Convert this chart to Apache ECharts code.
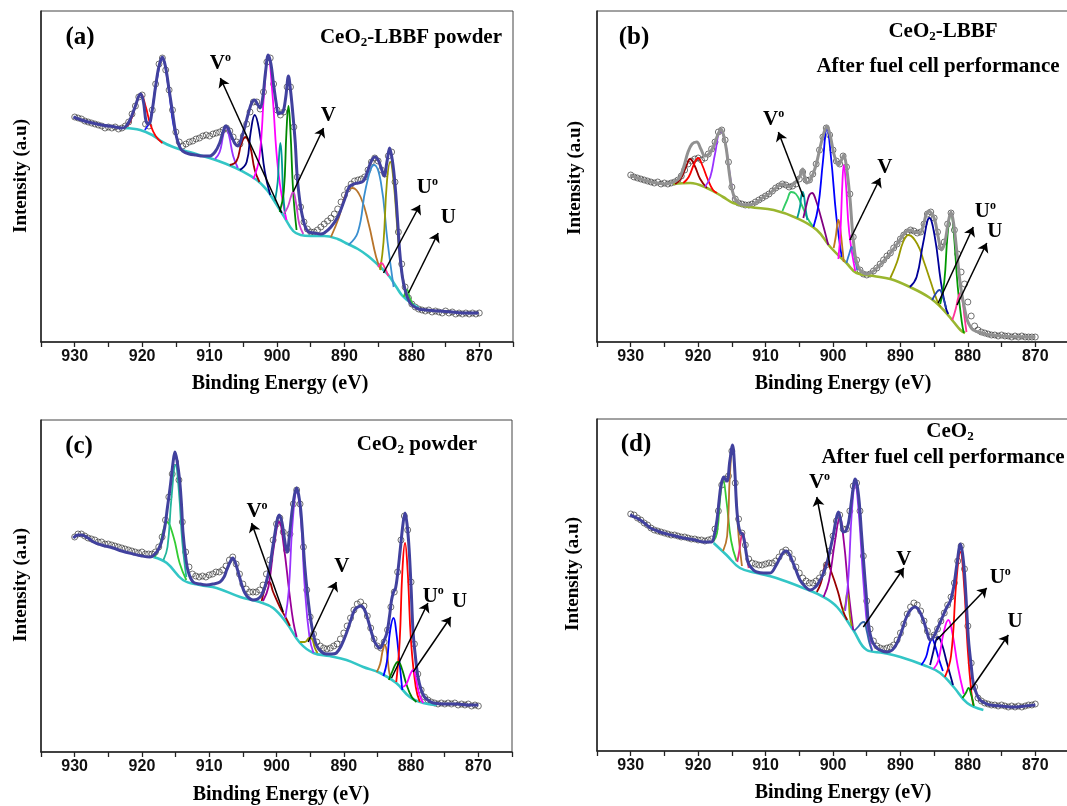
<!DOCTYPE html>
<html><head><meta charset="utf-8">
<script src="https://cdn.jsdelivr.net/npm/echarts@6/dist/echarts.min.js"></script>
<style>html,body{margin:0;padding:0;background:#fff}#c{width:1067px;height:806px}</style>
</head><body><div id="c"></div>
<script>
// ---------- axis ----------
const tickLabels = [930, 920, 910, 900, 890, 880, 870];
const rawStartEV = 930, rawStepEV = 0.5;   // raw points: 930 -> 870 every 0.5 eV

// ---------- panel (a) CeO2-LBBF powder ----------
const aRaw = [225,224,223,221,220,219,218,217,216,214,215,214,215,213,214,216,220,228,236,245,
247,218,216,232,258,278,284,272,252,232,210,200,196,198,200,201,203,204,206,207,
206,208,209,210,212,214,211,205,200,198,206,218,230,240,240,233,250,280,284,258,
232,227,230,255,255,215,165,135,120,113,110,110,112,115,118,121,124,128,133,140,
147,153,158,161,162,163,165,172,180,184,181,172,168,186,190,160,110,78,55,44,
38,35,33,32,31,32,30,31,30,29,31,29,30,28,29,28,29,28,29,28,29];
const aEnvelope = [[930.2,225],[929,222],[928,220],[926,217],[924,215],[923,214],[922.5,215],[921.8,222],[921,236],[920.5,246],[920.2,248],[919.8,240],[919.4,220],[919,218],[918.5,232],[918,256],[917.5,276],[917,285],[916.5,274],[916,252],[915.5,230],[915,208],[914.5,196],[914,191],[913,188],[912,187],[911,186],[910,186],[909.2,190],[908.5,199],[908,210],[907.6,216],[907.2,213],[906.7,205],[906.2,198],[905.8,196],[905.3,203],[904.7,217],[904.2,230],[903.7,240],[903.3,242],[902.9,238],[902.5,234],[902.1,245],[901.7,270],[901.3,287],[900.9,278],[900.5,257],[900.1,238],[899.8,228],[899.5,229],[899.1,230],[898.7,245],[898.3,266],[898,252],[897.7,232],[897.3,200],[897,165],[896.6,140],[896.3,128],[895.8,115],[895.3,110],[894.5,109],[893.5,108],[893,109],[892,115],[891,125],[890,142],[889.3,155],[888.6,158],[888,159],[887.4,160],[887,163],[886.5,172],[886,181],[885.5,185],[885,182],[884.6,175],[884.1,166],[883.7,180],[883.3,194],[882.9,182],[882.5,158],[882.1,120],[881.8,90],[881.4,65],[881,52],[880.5,42],[880,37],[879,33],[878,32],[876,31],[874,30],[872,29],[870.1,29]];
const aBackground = [[922.6,214],[920.3,212],[918.5,207],[917,200],[915.4,195],[913,190],[910,184],[907.5,178],[905.5,172],[903,162],[901.5,152],[900.5,142],[899,126],[897.6,111],[896.5,107],[895,106],[893,106],[891,103],[889.5,98],[888,93],[886.5,86],[885,77],[883.5,67],[882.3,55],[881.5,47],[880.5,41],[879.5,36],[879,34]];
const aPeak920_2 = [[922.6,214],[921.8,220],[921,236],[920.2,248],[919.5,236],[918.8,218],[918,206],[917,199]];
const aPeak917_0 = [[919.6,212],[918.8,222],[918,255],[917,283],[916.1,255],[915.3,215],[914.3,194]];
const aPeak907_6 = [[909.2,183],[908.5,190],[908,206],[907.6,216],[907.1,206],[906.5,186],[905.8,174]];
const aPeak904_7 = [[907,177],[906,181],[905.3,198],[904.7,205],[904,196],[903.3,172],[902.6,160]];
const aPeak903_3 = [[905.5,172],[904.5,180],[903.9,210],[903.3,227],[902.6,210],[901.8,170],[901,147]];
const aPeak901_3 = [[903.5,163],[902.6,185],[901.9,250],[901.3,287],[900.7,250],[899.8,170],[898.6,122]];
const aPeak899_5 = [[900.3,141],[899.9,160],[899.7,185],[899.5,199],[899.3,185],[899.1,150],[898.8,128]];
const aPeak898_3 = [[899.6,130],[899,150],[898.6,210],[898.3,236],[898,210],[897.6,150],[897.1,112]];
const aPeak897_6 = [[899,128],[898.4,135],[897.9,146],[897.6,150],[897.2,140],[896.7,118],[896.1,108]];
const aPeak888_8 = [[892,105],[890.8,125],[889.8,148],[888.8,154],[887.6,145],[886.4,118],[885.3,85],[884.6,72]];
const aPeak885_6 = [[889.4,97],[888,110],[886.8,155],[885.6,177],[884.6,160],[883.6,100],[882.7,55]];
const aPeak883_2 = [[884.7,72],[884.2,100],[883.7,160],[883.2,180],[882.7,160],[882,100],[881.5,70],[880.5,42],[879.8,37]];
const aPeak884_5 = [[885,75],[884.5,79],[884,74],[883.5,66]];
const aPeak880_7 = [[881.2,45],[880.7,52],[880.3,44],[879.8,37]];
const aComponents = [aPeak920_2,aPeak917_0,aPeak907_6,aPeak904_7,aPeak903_3,aPeak901_3,aPeak899_5,aPeak898_3,aPeak897_6,aPeak888_8,aPeak885_6,aPeak883_2,aPeak884_5,aPeak880_7];
const aComponentColors = ['#ff0000','#1a1aff','#9933ff','#990000','#000080','#ff00ff','#009999','#008800','#cc44cc','#b8742a','#3a8fd0','#999900','#ff3399','#33cc33'];

// ---------- panel (b) CeO2-LBBF after fuel cell ----------
const bRaw = [167,165,164,163,162,161,160,159,160,158,159,158,159,160,162,166,172,178,181,183,
184,182,184,188,193,200,210,212,202,180,155,143,139,138,137,137,138,140,142,144,
146,148,151,154,156,158,157,155,156,158,163,170,162,162,168,178,192,205,214,207,
192,181,178,186,175,148,105,82,72,68,67,68,71,74,78,82,86,89,94,98,
103,107,110,112,111,109,110,118,128,130,124,110,95,100,118,129,112,88,70,58,
40,26,16,12,10,9,8,7,7,6,7,6,6,5,6,5,6,5,5,5,5];
const bEnvelope = [[930.1,167],[929,164],[928.1,162],[927,160],[926.2,159],[925,158],[924.2,159],[923.3,161],[922.7,165],[922.1,176],[921.5,190],[920.9,198],[920.2,200],[919.6,193],[919,186],[918.4,188],[917.7,196],[917.1,207],[916.6,213],[916.2,206],[915.8,192],[915.4,170],[915,153],[914.5,143],[914,139],[913.2,137],[912.3,137],[911.3,140],[910.3,145],[909.5,148],[908.8,152],[908.1,156],[907.6,158],[907,157],[906.4,155],[905.8,158],[905.4,161],[904.9,166],[904.5,173],[904.2,165],[903.9,159],[903.4,162],[902.9,169],[902.4,180],[901.9,195],[901.4,208],[900.9,216],[900.4,206],[899.9,189],[899.5,180],[899.2,177],[898.8,181],[898.4,187],[898,175],[897.5,145],[897.1,110],[896.7,86],[896.3,76],[896,72],[895.5,69],[895,68],[894.2,70],[893.5,74],[892.5,81],[891.5,89],[890.6,97],[889.8,105],[889.2,110],[888.6,112],[887.9,110],[887.1,109],[886.6,117],[886.2,127],[885.8,131],[885.4,129],[884.9,122],[884.4,105],[883.9,92],[883.4,100],[882.9,120],[882.5,130],[882.1,118],[881.6,88],[881.2,62],[880.9,48],[880.5,34],[880.1,22],[879.6,15],[879.2,12],[878,9],[876.7,7],[875,6],[872.7,5],[870,5]];
const bBackground = [[923.7,158],[921.2,159],[918.7,154],[916.3,145],[914.8,139],[912.3,135],[908.8,132],[905.4,124],[902.4,112],[900.4,95],[898,79],[896.5,69],[894,66],[891.5,63],[888.6,55],[885.6,44],[883.6,32],[882.1,20],[881.1,12],[880.4,9]];
const bPeak921_2 = [[923.4,158],[922.6,163],[921.8,175],[921.2,183],[920.5,176],[919.7,163],[918.7,154]];
const bPeak920_0 = [[922.2,159],[921.4,165],[920.6,178],[920,184],[919.4,177],[918.6,163],[917.8,152],[917.2,149]];
const bPeak916_7 = [[919,155],[918.2,165],[917.5,188],[916.7,211],[916,200],[915.4,172],[914.7,145],[914.2,140]];
const bPeak906_2 = [[907.5,131],[906.8,142],[906.2,150],[905.5,148],[904.7,138],[903.8,124],[903,116]];
const bPeak904_5 = [[905.3,124],[904.9,135],[904.7,146],[904.5,150],[904.3,146],[904.1,135],[903.8,122]];
const bPeak903_1 = [[904.4,124],[903.9,138],[903.5,147],[903.1,149],[902.6,143],[901.8,125],[900.7,97]];
const bPeak900_9 = [[902.9,115],[902.2,135],[901.5,180],[900.9,214],[900.3,185],[899.5,125],[898.7,85]];
const bPeak899_2 = [[899.9,94],[899.6,105],[899.35,118],[899.2,122],[899,117],[898.7,100],[898.4,80]];
const bPeak898_4 = [[899.2,83],[898.9,110],[898.6,160],[898.4,177],[898.1,160],[897.6,110],[896.7,71]];
const bPeak897_2 = [[898,79],[897.6,88],[897.2,95],[896.8,85],[896.4,72]];
const bPeak888_8 = [[891.5,64],[890.5,80],[889.6,100],[888.8,107],[887.5,98],[886.5,80],[885.5,60],[884.6,42],[884,35]];
const bPeak885_7 = [[888.6,55],[887.6,65],[886.6,100],[885.7,124],[884.9,105],[884,60],[883.3,35],[882.9,28]];
const bPeak882_5 = [[884.1,38],[883.5,60],[883,108],[882.5,129],[882.1,110],[881.5,55],[880.9,20],[880.6,9]];
const bPeak884_2 = [[885.3,42],[884.6,50],[884.2,52],[883.7,45],[883.2,34]];
const bPeak881_1 = [[882.3,22],[881.8,33],[881.4,45],[881.1,49],[880.8,42],[880.5,25],[880.2,10]];
const bComponents = [bPeak921_2,bPeak920_0,bPeak916_7,bPeak906_2,bPeak904_5,bPeak903_1,bPeak900_9,bPeak899_2,bPeak898_4,bPeak897_2,bPeak888_8,bPeak885_7,bPeak882_5,bPeak884_2,bPeak881_1];
const bComponentColors = ['#990000','#ff0000','#9933ff','#33cc66','#009999','#800080','#0000ff','#c07a20','#ff00ff','#3377cc','#999900','#000099','#009900','#2244aa','#ff3399'];

// ---------- panel (c) CeO2 powder ----------
const cRaw = [215,218,218,216,214,213,212,210,210,208,208,207,206,205,204,203,202,201,200,199,
200,198,198,198,200,205,215,232,255,278,290,272,230,200,185,178,176,175,176,175,
177,178,180,180,182,186,192,195,188,178,168,163,160,160,160,162,167,178,192,212,
228,234,220,202,218,248,262,248,205,162,135,118,110,106,104,103,104,106,108,113,
119,126,134,142,148,150,146,136,124,113,106,104,110,122,145,160,180,212,236,222,
170,108,78,62,55,52,50,49,48,49,48,49,48,49,47,48,47,48,46,47,46];
const cEnvelope = [[930.2,214],[929.5,217],[929,217],[928,214],[927.2,210],[926,207],[924.3,204],[923,201],[921.3,198],[920,196],[918.8,195],[918.2,197],[917.6,202],[917.1,210],[916.6,225],[916.2,245],[915.8,265],[915.4,288],[915.1,300],[914.8,292],[914.4,272],[914.1,245],[913.9,220],[913.5,195],[913.1,180],[912.4,170],[911.4,168],[910.4,167],[909.4,168],[908.4,170],[907.8,175],[907.4,182],[906.9,190],[906.5,194],[906.1,189],[905.7,180],[905.2,168],[904.7,159],[904.1,154],[903.5,152],[902.8,153],[902.2,157],[901.6,168],[901,185],[900.6,203],[900.2,220],[899.9,232],[899.6,237],[899.2,230],[898.9,217],[898.6,204],[898.4,200],[898.1,215],[897.7,240],[897.3,258],[897,264],[896.7,257],[896.4,242],[896.1,215],[895.8,186],[895.4,158],[895,136],[894.5,117],[894,106],[893.3,100],[892.6,98],[891.8,98],[891.1,99],[890.4,106],[889.6,119],[889,131],[888.4,142],[887.9,145],[887.4,146],[886.9,142],[886.4,132],[885.9,120],[885.4,110],[884.9,105],[884.6,104],[884.1,110],[883.6,119],[883.2,136],[882.9,152],[882.6,160],[882.3,164],[882,178],[881.6,203],[881.2,228],[880.9,239],[880.6,228],[880.3,204],[880,165],[879.7,120],[879.3,92],[879,76],[878.5,62],[878,55],[877.3,51],[876.7,49],[875,48],[873.2,48],[871.5,47],[870,47]];
const cBackground = [[918.3,195],[916.3,189],[913.9,172],[911.4,167],[908.9,164],[905.4,155],[902.5,150],[900.5,144],[898.5,129],[896.5,109],[894.5,99],[892.1,96],[889.6,92],[887.1,85],[884.6,79],[882.2,69],[880.2,55],[878.2,49],[876.2,47]];
const cPeak916_3 = [[918.1,195],[917.4,205],[916.8,222],[916.3,230],[915.3,215],[914.4,189],[913.4,172]];
const cPeak915_0 = [[916.8,192],[916.2,205],[915.6,255],[915,287],[914.5,260],[914,210],[913.4,175]];
const cPeak901_1 = [[902.2,151],[901.8,162],[901.4,169],[901.1,170],[900.5,160],[899.5,145],[898.6,134],[898,126]];
const cPeak899_6 = [[902,151],[901.2,165],[900.4,205],[899.6,230],[898.9,205],[898.1,160],[897.5,130],[897,115]];
const cPeak897_0 = [[898.7,134],[898.2,160],[897.6,230],[897,260],[896.4,235],[895.8,165],[895.1,115],[894.5,99]];
const cPeak895_1 = [[896.5,110],[895.8,110],[895.1,114],[894.7,113],[894.3,104],[893.9,99]];
const cPeak883_9 = [[885.1,80],[884.6,88],[884.2,102],[883.9,107],[883.6,100],[883.3,82],[883.1,75]];
const cPeak882_6 = [[884.1,76],[883.6,90],[883.1,122],[882.6,134],[882.2,120],[881.7,88],[881.3,62]];
const cPeak880_9 = [[882.2,70],[881.7,110],[881.3,180],[880.9,209],[880.5,180],[880,110],[879.3,65],[878.7,50]];
const cPeak881_9 = [[883.3,72],[882.7,82],[882.2,89],[881.9,90],[881.4,84],[880.7,68],[879.9,55],[879.2,50]];
const cPeak879_7 = [[881.2,65],[880.7,68],[880.1,78],[879.7,82],[879.3,74],[878.8,58],[878.2,49]];
const cComponents = [cPeak916_3,cPeak915_0,cPeak901_1,cPeak899_6,cPeak897_0,cPeak895_1,cPeak883_9,cPeak882_6,cPeak880_9,cPeak881_9,cPeak879_7];
const cComponentColors = ['#33cc33','#22b59a','#990000','#990099','#9933ff','#999900','#b8742a','#0000ff','#ff0000','#008000','#ff00ff'];

// ---------- panel (d) CeO2 after fuel cell ----------
const dRaw = [237,236,233,231,228,226,223,221,220,219,218,217,216,216,215,214,214,213,212,212,
211,211,210,211,212,222,240,266,272,275,300,268,232,218,206,192,188,187,186,186,
187,188,188,190,194,199,201,198,192,184,178,173,170,168,168,170,173,178,186,200,
215,230,236,222,222,240,265,268,240,195,150,122,110,105,103,102,103,104,106,111,
118,127,137,144,148,146,140,130,120,114,116,122,130,138,146,154,168,190,205,182,
125,88,64,53,50,48,47,46,46,45,46,45,44,45,44,45,44,45,46,46,47];
const dEnvelope = [[930.1,236],[929.4,234],[928.6,231],[927.8,227],[927.1,223],[926,220],[925.2,218],[924,216],[922.2,213],[920.5,211],[919.2,209],[918,209],[917.6,216],[917.2,231],[916.9,250],[916.6,266],[916.2,274],[915.9,271],[915.7,270],[915.3,290],[914.9,306],[914.6,285],[914.3,245],[914,225],[913.7,218],[913.4,217],[913.1,208],[912.8,195],[912.5,187],[911.8,181],[911.3,179],[910.3,178],[909.3,178],[908.5,185],[907.8,194],[907.3,199],[906.9,200],[906.5,197],[906.1,191],[905.5,181],[904.9,171],[904.2,165],[903.4,161],[902.6,164],[901.9,171],[901.4,178],[900.9,188],[900.4,202],[899.9,218],[899.5,233],[899.2,239],[898.9,232],[898.5,219],[898.1,220],[897.7,228],[897.3,248],[896.9,268],[896.7,272],[896.4,265],[896.1,248],[895.8,220],[895.4,184],[895,150],[894.7,125],[894.2,110],[893.5,103],[892.7,100],[892,99],[891.2,101],[890.5,108],[889.8,120],[889.1,134],[888.4,142],[887.8,144],[887.2,140],[886.6,131],[886.1,120],[885.6,111],[885.1,114],[884.4,124],[883.7,135],[883.1,144],[882.6,150],[882.1,164],[881.6,188],[881.1,207],[880.8,198],[880.5,178],[880.2,145],[879.9,111],[879.5,85],[879.2,68],[878.7,57],[878.2,51],[877.5,48],[876.7,46],[875,45],[873.2,44],[871.5,45],[870,46]];
const dBackground = [[917.7,208],[915.8,196],[913.8,183],[911.3,178],[908.4,173],[904.4,163],[901.4,154],[899.4,144],[897,121],[895,101],[892.5,98],[890,94],[886.6,86],[884.1,78],[882.1,64],[880.1,48],[877.7,41]];
const dPeak916_3 = [[917.8,209],[917.2,218],[916.7,255],[916.3,271],[915.8,250],[915.1,210],[914.3,190]];
const dPeak914_9 = [[916.3,200],[915.7,215],[915.3,275],[914.9,303],[914.5,270],[914,215],[913.5,185]];
const dPeak913_4 = [[914.2,189],[913.9,200],[913.6,214],[913.4,218],[913.1,210],[912.8,195],[912.5,183]];
const dPeak900_9 = [[902.4,159],[901.8,168],[901.3,183],[900.9,189],[900.3,180],[899.3,160],[898.5,140],[897.9,131]];
const dPeak899_0 = [[901.4,154],[900.6,170],[899.7,210],[899,233],[898.4,210],[897.7,160],[897,121]];
const dPeak897_9 = [[898.5,140],[898.2,145],[898,155],[897.9,158],[897.7,152],[897.5,135],[897.2,125]];
const dPeak896_7 = [[898.2,140],[897.7,175],[897.2,240],[896.7,266],[896.2,240],[895.5,170],[894.8,118],[894.2,101]];
const dPeak895_4 = [[896.9,120],[896.3,124],[895.8,128],[895.4,129],[895,120],[894.6,108],[894.2,100]];
const dPeak885_3 = [[886.9,86],[886.2,94],[885.7,107],[885.3,112],[884.9,106],[884.3,92],[883.7,80]];
const dPeak884_4 = [[885.6,86],[885.1,100],[884.7,111],[884.4,114],[883.9,108],[883.1,88],[882.2,66]];
const dPeak882_9 = [[885.1,82],[884.4,90],[883.6,118],[882.9,131],[882.3,118],[881.5,85],[880.6,57]];
const dPeak881_1 = [[883.4,74],[882.5,95],[881.7,170],[881.1,199],[880.6,170],[880,100],[879.5,60],[879.2,46]];
const dPeak879_9 = [[880.8,53],[880.3,58],[879.9,63],[879.5,56],[879.1,45]];
const dComponents = [dPeak916_3,dPeak914_9,dPeak913_4,dPeak900_9,dPeak899_0,dPeak897_9,dPeak896_7,dPeak895_4,dPeak885_3,dPeak884_4,dPeak882_9,dPeak881_1,dPeak879_9];
const dComponentColors = ['#33cc33','#b8742a','#e0307a','#990000','#990099','#999900','#9933ff','#3366aa','#0000ff','#000080','#ff00ff','#ff0000','#009900'];

// ---------- annotations (label, eV, intensity) and arrows (from -> to) ----------
const aLabels = [['V°',908.4,278],['V',892.4,226],['U°',877.7,154],['U',874.6,124]];
const aArrows = [[[899.3,129],[908.4,264]],[[897.6,150],[893.1,214]],[[884.2,69],[878.8,137]],[[880.5,49],[876.1,109]]];
const bLabels = [['V°',908.8,222],['V',892.3,174],['U°',877.4,130],['U',876,110]];
const bArrows = [[[904.4,145],[908.1,210]],[[897.5,102],[893,164]],[[884.4,39],[879.2,115]],[[881.6,37],[877.2,99]]];
const cLabels = [['V°',902.9,240],['V',890.3,185],['U°',876.7,155],['U',872.8,150]];
const cArrows = [[[899,140],[903.7,229]],[[895.3,110],[891.1,170]],[[882.9,74],[877.5,149]],[[879.7,80],[874.1,135]]];
const dLabels = [['V°',902,268],['V',889.5,191],['U°',875.2,173],['U',873,129]];
const dArrows = [[[900.4,184],[902.4,254]],[[895.5,124],[889.5,183]],[[884.6,111],[877.2,163]],[[879.6,61],[874,116]]];

// ---------- build ----------
const serif = '"Liberation Serif","Times New Roman",serif';
const sans = '"Liberation Sans",Arial,sans-serif';
const panels = [
  {grid:{left:41,top:11,width:472,height:331}, ymax:331, raw:aRaw, env:aEnvelope, envColor:'#41419e', bg:aBackground, bgColor:'#33c6c6', comps:aComponents, colors:aComponentColors, labels:aLabels, arrows:aArrows},
  {grid:{left:597,top:11,width:472,height:331}, ymax:331, raw:bRaw, env:bEnvelope, envColor:'#919191', bg:bBackground, bgColor:'#9ab62f', comps:bComponents, colors:bComponentColors, labels:bLabels, arrows:bArrows},
  {grid:{left:41,top:420,width:471,height:332}, ymax:332, raw:cRaw, env:cEnvelope, envColor:'#41419e', bg:cBackground, bgColor:'#33c6c6', comps:cComponents, colors:cComponentColors, labels:cLabels, arrows:cArrows},
  {grid:{left:597,top:419,width:472,height:332}, ymax:332, raw:dRaw, env:dEnvelope, envColor:'#41419e', bg:dBackground, bgColor:'#33c6c6', comps:dComponents, colors:dComponentColors, labels:dLabels, arrows:dArrows}
];

const grids = [], xAxes = [], yAxes = [], series = [];
panels.forEach((p, i) => {
  grids.push(Object.assign({show:true, borderColor:'#444', borderWidth:1, backgroundColor:'transparent', containLabel:false, outerBoundsMode:'none'}, p.grid));
  xAxes.push({gridIndex:i, type:'value', min:865, max:935, interval:5, inverse:true,
    axisLine:{show:true, onZero:false, lineStyle:{color:'#222', width:1.5}},
    axisTick:{show:true, length:5, lineStyle:{color:'#222', width:1.3}},
    axisLabel:{color:'#111', fontFamily:sans, fontWeight:'bold', fontSize:16, margin:7,
      formatter: v => tickLabels.includes(v) ? String(v) : ''},
    splitLine:{show:false}});
  yAxes.push({gridIndex:i, type:'value', min:0, max:p.ymax,
    axisLine:{show:true, lineStyle:{color:'#222', width:1.5}}, axisTick:{show:false},
    axisLabel:{show:false}, splitLine:{show:false}});
  series.push({type:'scatter', xAxisIndex:i, yAxisIndex:i, silent:true, symbol:'circle', symbolSize:6,
    itemStyle:{color:'rgba(255,255,255,0)', borderColor:'#3a3a3a', borderWidth:0.9},
    data: p.raw.map((v, k) => [rawStartEV - k * rawStepEV, v])});
  series.push({type:'line', xAxisIndex:i, yAxisIndex:i, silent:true, data:p.bg, smooth:0.4, showSymbol:false,
    lineStyle:{color:p.bgColor, width:2.6}});
  p.comps.forEach((c, k) => series.push({type:'line', xAxisIndex:i, yAxisIndex:i, silent:true, data:c,
    smooth:0.45, showSymbol:false, lineStyle:{color:p.colors[k], width:1.8}}));
  series.push({type:'line', xAxisIndex:i, yAxisIndex:i, silent:true, data:p.env, smooth:0.35, showSymbol:false,
    lineStyle:{color:p.envColor, width:3},
    markLine:{silent:true, symbol:['none','arrow'], symbolSize:9, animation:false,
      lineStyle:{color:'#000', width:1.5, type:'solid'}, label:{show:false},
      data: p.arrows.map(a => [{coord:a[0]}, {coord:a[1]}])},
    markPoint:{silent:true, symbol:'rect', symbolSize:1, itemStyle:{color:'rgba(0,0,0,0)'}, animation:false,
      data: p.labels.map(l => ({name:l[0], coord:[l[1], l[2]]})),
      label:{show:true, position:'inside',
        formatter: q => q.name.indexOf('°') >= 0 ? '{m|' + q.name.replace('°','') + '}{s|o}' : '{m|' + q.name + '}',
        rich:{m:{fontFamily:serif, fontWeight:'bold', fontSize:21, color:'#000'},
              s:{fontFamily:serif, fontWeight:'bold', fontSize:12, color:'#000', padding:[0,0,13,0]}}}}});
});

function gText(x, y, text, size, align, rot) {
  return {type:'text', x:x, y:y, rotation:rot || 0, silent:true,
    style:{text:text, fill:'#000', fontFamily:serif, fontWeight:'bold', fontSize:size,
      align:align || 'center', verticalAlign:'middle',
      rich:{a:{fontFamily:serif, fontWeight:'bold', fontSize:size, fill:'#000'},
            s:{fontFamily:serif, fontWeight:'bold', fontSize:Math.round(size*0.6), fill:'#000', padding:[10,0,0,0]}}}};
}
const graphics = [
  gText(80, 38, '(a)', 25), gText(634, 38, '(b)', 25), gText(79, 447, '(c)', 25), gText(636, 445, '(d)', 25),
  gText(502, 38, '{a|CeO}{s|2}{a|-LBBF powder}', 21, 'right'),
  gText(943, 32, '{a|CeO}{s|2}{a|-LBBF}', 21), gText(938, 67, 'After fuel cell performance', 21),
  gText(477, 445, '{a|CeO}{s|2}{a| powder}', 21, 'right'),
  gText(950, 432, '{a|CeO}{s|2}', 21), gText(943, 458, 'After fuel cell performance', 21),
  gText(280, 384, 'Binding Energy (eV)', 20), gText(843, 384, 'Binding Energy (eV)', 20),
  gText(281, 795, 'Binding Energy (eV)', 20), gText(843, 793, 'Binding Energy (eV)', 20),
  gText(21, 176, 'Intensity (a.u)', 19, 'center', Math.PI/2), gText(575, 178, 'Intensity (a.u)', 19, 'center', Math.PI/2),
  gText(21, 585, 'Intensity (a.u)', 19, 'center', Math.PI/2), gText(573, 574, 'Intensity (a.u)', 19, 'center', Math.PI/2)
];

const chart = echarts.init(document.getElementById('c'), null, {renderer:'canvas'});
chart.setOption({animation:false, backgroundColor:'#fff', grid:grids, xAxis:xAxes, yAxis:yAxes, series:series, graphic:graphics});
</script></body></html>
